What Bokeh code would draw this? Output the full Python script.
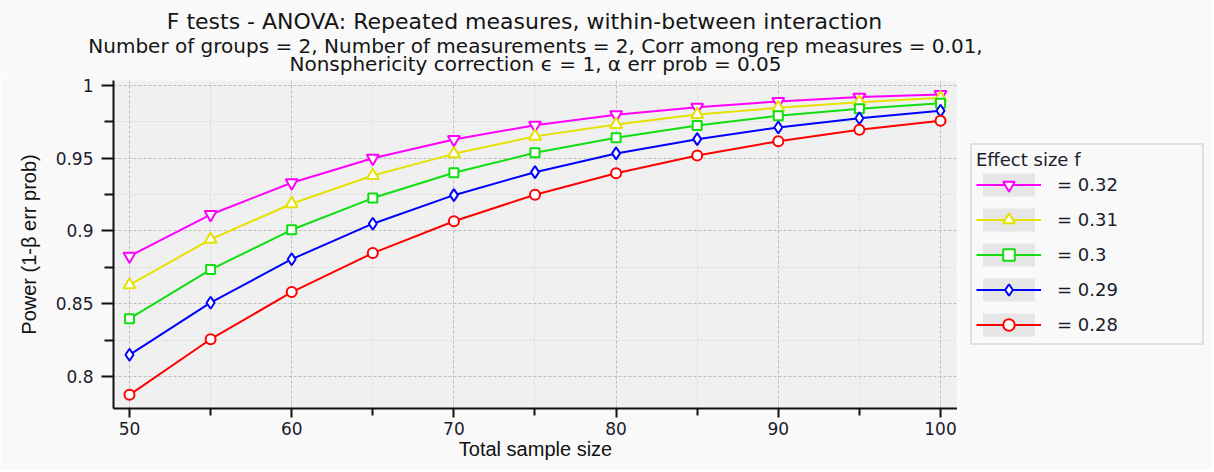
from bokeh.plotting import figure
from bokeh.layouts import row, column
from bokeh.models import Range1d, FixedTicker, NumeralTickFormatter, Legend, LegendItem, Label
from bokeh.embed import file_html
from bokeh.resources import INLINE

# ---------------- data ----------------
sample_size = [50, 55, 60, 65, 70, 75, 80, 85, 90, 95, 100]
power_f032 = [0.8827, 0.9113, 0.9331, 0.9500, 0.9629, 0.9727, 0.9799, 0.9851, 0.9890, 0.9920, 0.9938]
power_f031 = [0.8630, 0.8942, 0.9187, 0.9381, 0.9530, 0.9650, 0.9732, 0.9800, 0.9847, 0.9885, 0.9915]
power_f030 = [0.8397, 0.8735, 0.9008, 0.9226, 0.9400, 0.9537, 0.9640, 0.9725, 0.9792, 0.9840, 0.9878]
power_f029 = [0.8149, 0.8507, 0.8806, 0.9050, 0.9246, 0.9404, 0.9533, 0.9631, 0.9711, 0.9775, 0.9826]
power_f028 = [0.7874, 0.8256, 0.8580, 0.8848, 0.9067, 0.9249, 0.9397, 0.9519, 0.9617, 0.9695, 0.9757]
series_labels = ["= 0.32", "= 0.31", "= 0.3", "= 0.29", "= 0.28"]

x_ticks = [50, 60, 70, 80, 90, 100]
x_minor_ticks = [55, 65, 75, 85, 95]
y_ticks = [0.8, 0.85, 0.9, 0.95, 1.0]
y_minor_ticks = [0.825, 0.875, 0.925, 0.975]

title_lines = [
    "F tests - ANOVA: Repeated measures, within-between interaction",
    "Number of groups = 2, Number of measurements = 2, Corr among rep measures = 0.01,",
    "Nonsphericity correction \u03f5 = 1, \u03b1 err prob = 0.05",
]
x_label = "Total sample size"
y_label = "Power (1-\u03b2 err prob)"
legend_title = "Effect size f"

# ---------------- styling ----------------
series_values = [power_f032, power_f031, power_f030, power_f029, power_f028]
colors = ["#ff00ff", "#e5e100", "#11dd11", "#0000ff", "#ff0000"]
markers = ["inverted_triangle", "triangle", "square", "diamond", "circle"]
marker_sizes = [12, 12, 9, 12, 10]
PAGE_BG = "#f9f9f9"
TEXT = "#1c1c2c"

X0, X1 = 49.014, 101.048
Y0, Y1 = 0.778, 1.0034
TITLE_H = 75

# ---------------- title strip ----------------
tf = figure(
    width=1212, height=TITLE_H, output_backend="svg", toolbar_location=None,
    x_range=Range1d(0, 1212), y_range=Range1d(TITLE_H, 0),
    x_axis_type=None, y_axis_type=None,
    min_border_left=0, min_border_right=0, min_border_top=0, min_border_bottom=0,
    background_fill_color=PAGE_BG, border_fill_color=PAGE_BG,
    outline_line_color=None,
)
tf.xgrid.visible = False
tf.ygrid.visible = False
title_pos = [(524, 21, "22px"), (535, 45, "20px"), (535, 63, "20px")]
for txt, (cx, cy, fs) in zip(title_lines, title_pos):
    tf.add_layout(Label(x=cx, y=cy, text=txt, text_align="center", text_baseline="middle",
                        text_font="DejaVu Sans", text_font_size=fs, text_color="#151515"))

# ---------------- main plot ----------------
p = figure(
    width=957, height=470 - TITLE_H,
    output_backend="svg", toolbar_location=None,
    x_range=Range1d(X0, X1), y_range=Range1d(Y0, Y1),
    min_border_left=113, min_border_right=0,
    min_border_top=5, min_border_bottom=62,
    background_fill_color="#f0f0f0", border_fill_color=PAGE_BG,
    outline_line_color=None,
)

for ax in (p.xaxis[0], p.yaxis[0]):
    ax.axis_line_color = "#111111"
    ax.axis_line_width = 2
    ax.major_tick_line_color = "#111111"
    ax.major_tick_line_width = 2
    ax.minor_tick_line_color = "#111111"
    ax.minor_tick_line_width = 2
    ax.major_tick_in = 0
    ax.minor_tick_in = 0
    ax.major_label_text_font = "DejaVu Sans"
    ax.major_label_text_font_size = "17px"
    ax.major_label_text_color = TEXT
    ax.axis_label_text_font = "Liberation Sans"
    ax.axis_label_text_font_style = "normal"
    ax.axis_label_text_color = "#111111"

p.xaxis.ticker = FixedTicker(ticks=x_ticks, minor_ticks=x_minor_ticks)
p.yaxis.ticker = FixedTicker(ticks=y_ticks, minor_ticks=y_minor_ticks)
p.yaxis.formatter = NumeralTickFormatter(format="0.[00]")

p.xaxis.major_tick_out = 9
p.xaxis.minor_tick_out = 7
p.yaxis.major_tick_out = 12
p.yaxis.minor_tick_out = 9

p.xaxis.axis_label = x_label
p.xaxis.axis_label_text_font_size = "20px"
p.xaxis.major_label_standoff = 4
p.xaxis.axis_label_standoff = 0

p.yaxis.axis_label = y_label
p.yaxis.axis_label_text_font_size = "20px"
p.yaxis.major_label_standoff = 8
p.yaxis.axis_label_standoff = 13

for g in (p.xgrid[0], p.ygrid[0]):
    g.grid_line_color = "#bdbdbd"
    g.grid_line_dash = "3 2"
    g.grid_line_width = 1
    g.minor_grid_line_color = "#dadada"
    g.minor_grid_line_dash = "2 2"
    g.minor_grid_line_width = 1

for vals, col, mk, ms in zip(series_values, colors, markers, marker_sizes):
    p.line(sample_size, vals, line_color=col, line_width=2)
    p.scatter(sample_size, vals, marker=mk, size=ms, line_color=col,
              line_width=2, fill_color="#ffffff")

# ---------------- legend panel (separate canvas on the right) ----------------
# The legend canvas has a unit range, so the series data placed on it stay off-screen;
# they only give the legend its swatches.
lf = figure(
    width=255, height=470 - TITLE_H, output_backend="svg", toolbar_location=None,
    x_range=Range1d(0, 1), y_range=Range1d(0, 1),
    x_axis_type=None, y_axis_type=None,
    min_border_left=0, min_border_right=0, min_border_top=5, min_border_bottom=62,
    background_fill_color=PAGE_BG, border_fill_color=PAGE_BG,
    outline_line_color=None,
)
lf.xgrid.visible = False
lf.ygrid.visible = False

items = []
for vals, col, mk, ms, lab in zip(series_values, colors, markers, marker_sizes, series_labels):
    sw = lf.rect(x=sample_size, y=vals, width=1, height=1, fill_color="#e6e6e6", line_color=None)
    ln = lf.line(x=sample_size, y=vals, line_color=col, line_width=2)
    sc = lf.scatter(x=sample_size, y=vals, marker=mk, size=ms, line_color=col,
                    line_width=2, fill_color="#ffffff")
    items.append(LegendItem(label=lab, renderers=[sw, ln, sc]))

legend = Legend(
    items=items, location=(13, 63), orientation="vertical",
    padding=4, spacing=6,
    glyph_width=65, glyph_height=29,
    label_standoff=16, label_width=141,
    label_text_font="DejaVu Sans", label_text_font_size="18px",
    label_text_color=TEXT,
    title=legend_title, title_text_font="DejaVu Sans",
    title_text_font_size="18px", title_text_font_style="normal",
    title_text_color=TEXT, title_standoff=0,
    border_line_color="#c8c8c8", border_line_width=2,
    background_fill_color=PAGE_BG, background_fill_alpha=1.0,
)
lf.add_layout(legend)

layout = column(tf, row(p, lf, spacing=0), spacing=0)
open("out.html", "w").write(file_html(layout, INLINE))
